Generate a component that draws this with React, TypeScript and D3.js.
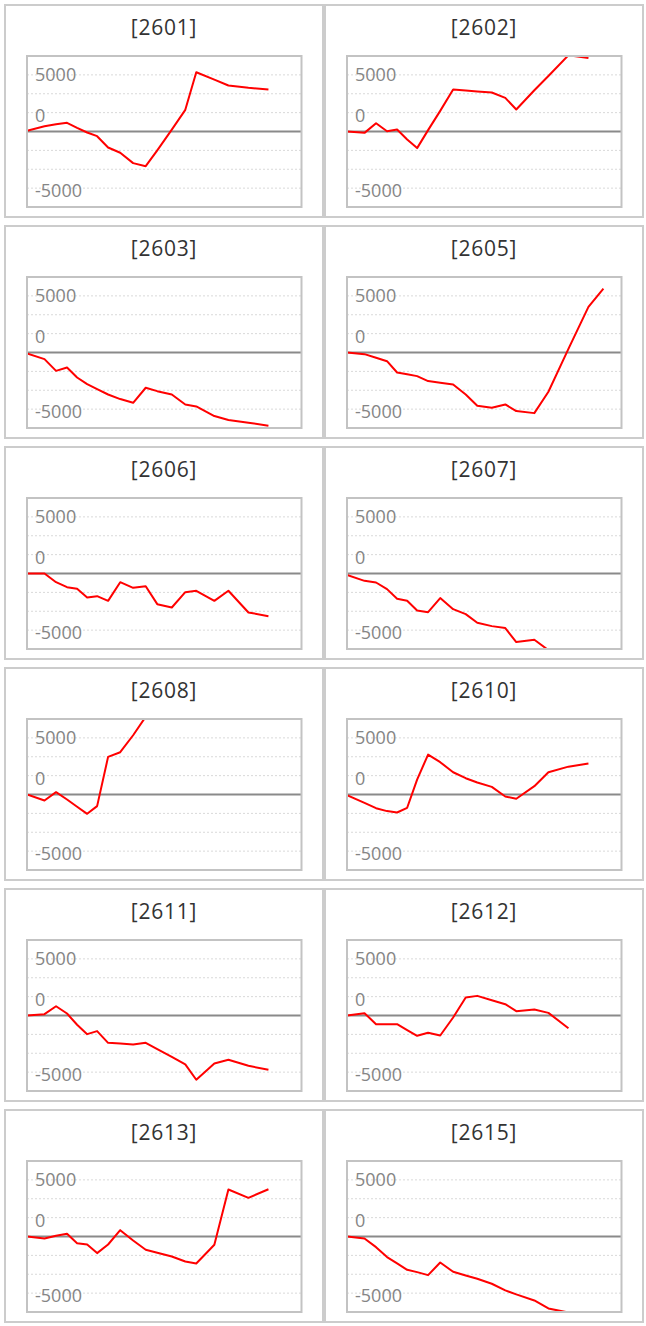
import React from 'react';
import * as d3 from 'd3';

// shared time axis (trading days since start)
const days = [0, 1.53, 2.54, 3.5, 4.38, 5.26, 6.13, 7.09, 8.15, 9.28, 10.38, 11.39, 12.66, 13.84, 14.8, 16.38, 17.61, 19.36, 21.11, 22.42];
const dayDomain = [0, 24];

const codes = ['2601', '2602', '2603', '2605', '2606', '2607', '2608', '2610', '2611', '2612', '2613', '2615'];

const s2601 = [100, 700, 970, 1150, 485, -130, -620, -2120, -2820, -4190, -4590, -2490, 240, 2870, 7850, 6880, 6090, 5780, 5560];
const s2602 = [0, -180, 1100, 40, 260, -1060, -2200, 180, 2730, 5560, 5420, 5290, 5160, 4450, 2910, 5460, 7360, 10100, 9750];
const s2603 = [-130, -880, -2430, -1980, -3310, -4190, -4850, -5560, -6170, -6660, -4670, -5120, -5560, -6880, -7140, -8420, -8950, -9300, -9700];
const s2605 = [0, -220, -700, -1150, -2650, -2870, -3130, -3790, -4010, -4230, -5560, -7060, -7320, -6880, -7760, -8030, -5200, 480, 6040, 8470];
const s2606 = [0, 0, -1150, -1810, -2030, -3180, -3000, -3620, -1150, -1900, -1680, -4060, -4500, -2470, -2290, -3620, -2290, -5160, -5650];
const s2607 = [-180, -970, -1190, -2070, -3350, -3620, -4900, -5120, -3260, -4720, -5380, -6530, -6970, -7230, -9080, -8780, -10150, -10900, -11400];
const s2608 = [0, -790, 310, -660, -1630, -2560, -1540, 4980, 5600, 7850, 10300, 11200, 11900, 12400, 12200, 12900, 13400, 13100, 13600];
const s2610 = [-90, -1100, -1810, -2200, -2380, -1760, 1980, 5290, 4280, 2950, 2160, 1590, 1010, -260, -570, 1100, 2950, 3690, 4100];
const s2611 = [0, 180, 1230, 260, -1230, -2470, -2070, -3620, -3700, -3840, -3620, -4450, -5470, -6480, -8510, -6350, -5870, -6660, -7190];
const s2612 = [0, 310, -1150, -1150, -1150, -1940, -2690, -2290, -2650, -260, 2380, 2600, 2030, 1500, 570, 790, 350, -1680];
const s2613 = [0, -260, 90, 350, -880, -1060, -2200, -1060, 840, -530, -1760, -2160, -2650, -3310, -3570, -1100, 6220, 5120, 6260];
const s2615 = [0, -260, -1410, -2730, -3570, -4410, -4720, -5120, -3440, -4670, -5160, -5600, -6260, -7140, -7670, -8470, -9530, -10080, -10500];

const seriesList = [s2601, s2602, s2603, s2605, s2606, s2607, s2608, s2610, s2611, s2612, s2613, s2615];

const yDomain = [-10000, 10000];
const gridValues = [-7500, -5000, -2500, 2500, 5000, 7500];
const yTickLabels = ['5000', '0', '-5000'];
const yTickAt = [7500, 2500, -7500];

const W = 646;
const H = 1326;
const panelW = 320;
const panelH = 214;
const rowStep = 221;
const plot = { left: 23, right: 297.5, top: 52, bottom: 203 };
// small vertical nudges so the labels sit like the original renderer's
const labelNudge = [-0.5, 3.5, 3];

function Panel({ code, values, px, py, idx }: { code: string; values: number[]; px: number; py: number; idx: number }) {
  const x = d3.scaleLinear().domain(dayDomain).range([plot.left, plot.right]);
  const y = d3.scaleLinear().domain(yDomain).range([plot.bottom, plot.top]);
  const line = d3.line<number>()
    .x((_, i) => x(days[i]))
    .y(d => y(d));
  const clipId = `clip-${idx}`;

  return (
    <g transform={`translate(${px},${py})`}>
      <rect x={1} y={1} width={panelW - 2} height={panelH - 2} fill="#fff" stroke="#cccccc" strokeWidth={2} />
      <text
        x={panelW / 2}
        y={30.5}
        textAnchor="middle"
        fontFamily="'Open Sans', sans-serif"
        fontSize={21}
        letterSpacing={0.8}
        fill="#333"
      >
        [{code}]
      </text>
      <defs>
        <clipPath id={clipId}>
          <rect x={plot.left} y={plot.top} width={plot.right - plot.left} height={plot.bottom - plot.top} />
        </clipPath>
      </defs>
      {gridValues.map(v => (
        <line
          key={v}
          x1={plot.left}
          x2={plot.right}
          y1={y(v)}
          y2={y(v)}
          stroke="#d9d9d9"
          strokeWidth={1}
          strokeDasharray="2 2"
        />
      ))}
      {yTickLabels.map((t, i) => (
        <text
          key={t}
          x={plot.left + 8}
          y={y(yTickAt[i]) + labelNudge[i]}
          dy="0.35em"
          fontFamily="'Open Sans', sans-serif"
          fontSize={18}
          fill="#858585"
        >
          {t}
        </text>
      ))}
      <line x1={plot.left} x2={plot.right} y1={y(0)} y2={y(0)} stroke="#8a8a8a" strokeWidth={2} />
      <path
        d={line(values) || ''}
        fill="none"
        stroke="#ff0000"
        strokeWidth={2}
        strokeLinejoin="round"
        clipPath={`url(#${clipId})`}
      />
      <rect
        x={plot.left}
        y={plot.top}
        width={plot.right - plot.left}
        height={plot.bottom - plot.top}
        fill="none"
        stroke="#c3c3c3"
        strokeWidth={2}
      />
    </g>
  );
}

export default function App() {
  return (
    <svg
      width={W}
      height={H}
      style={{ position: 'absolute', left: 0, top: 0, background: '#fff' }}
    >
      {codes.map((code, i) => (
        <Panel
          key={code}
          idx={i}
          code={code}
          values={seriesList[i]}
          px={4 + (i % 2) * panelW}
          py={4 + Math.floor(i / 2) * rowStep}
        />
      ))}
    </svg>
  );
}
